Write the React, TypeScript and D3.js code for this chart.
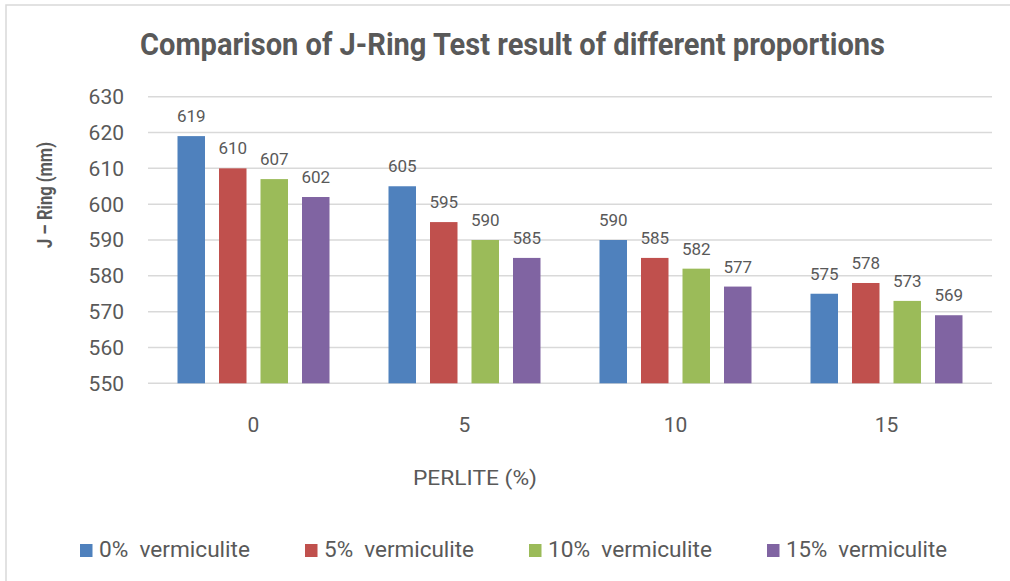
import React, { useEffect, useRef } from "react";
import * as d3 from "d3";

const categories = ["0", "5", "10", "15"];
const seriesNames = ["0% vermiculite", "5% vermiculite", "10% vermiculite", "15% vermiculite"];
const seriesColors = ["#4f81bd", "#c0504d", "#9bbb59", "#8064a2"];
const v0 = [619, 605, 590, 575];
const v5 = [610, 595, 585, 578];
const v10 = [607, 590, 582, 573];
const v15 = [602, 585, 577, 569];
const seriesValues = [v0, v5, v10, v15];
const yTicks = [550, 560, 570, 580, 590, 600, 610, 620, 630];

const W = 1010;
const H = 581;
const FONT = "Roboto, 'Open Sans', sans-serif";
const TXT = "#595959";
const legendTextWidths = [151, 150, 164, 161];

export default function App() {
  const ref = useRef<SVGSVGElement>(null);

  useEffect(() => {
    const svg = d3.select(ref.current);
    svg.selectAll("*").remove();

    svg.append("rect").attr("x", 0).attr("y", 0).attr("width", W).attr("height", H).attr("fill", "#fff");
    svg.append("rect")
      .attr("x", 6).attr("y", 5).attr("width", W + 20).attr("height", H + 20)
      .attr("fill", "none").attr("stroke", "#d9d9d9").attr("stroke-width", 1.5);

    const left = 148, right = 992, top = 96.7, bottom = 383.3;
    const x0 = d3.scaleBand().domain(categories).range([left, right]).paddingInner(0).paddingOuter(0);
    const y = d3.scaleLinear().domain([550, 630]).range([bottom, top]);

    svg.append("g").selectAll("line").data(yTicks).join("line")
      .attr("x1", left).attr("x2", right)
      .attr("y1", (d) => y(d)).attr("y2", (d) => y(d))
      .attr("stroke", "#d9d9d9").attr("stroke-width", 1.5);

    svg.append("g").selectAll("text").data(yTicks).join("text")
      .attr("x", 124).attr("y", (d) => y(d)).attr("dy", "0.35em")
      .attr("text-anchor", "end").attr("font-family", FONT).attr("font-size", 21)
      .attr("fill", TXT).text((d) => d);

    const bw = 27.5, pitch = 41.5;
    const offset = (i: number) => (i - 1.5) * pitch - bw / 2;

    seriesValues.forEach((vals, si) => {
      const g = svg.append("g");
      g.selectAll("rect").data(vals).join("rect")
        .attr("x", (d, i) => (x0(categories[i]) as number) + x0.bandwidth() / 2 + offset(si))
        .attr("y", (d) => y(d)).attr("width", bw).attr("height", (d) => bottom - y(d))
        .attr("fill", seriesColors[si]);
      g.selectAll("text").data(vals).join("text")
        .attr("x", (d, i) => (x0(categories[i]) as number) + x0.bandwidth() / 2 + offset(si) + bw / 2)
        .attr("y", (d) => y(d) - 14)
        .attr("text-anchor", "middle").attr("font-family", FONT).attr("font-size", 17)
        .attr("fill", TXT).text((d) => d);
    });

    svg.append("g").selectAll("text").data(categories).join("text")
      .attr("x", (d) => (x0(d) as number) + x0.bandwidth() / 2).attr("y", 432)
      .attr("text-anchor", "middle").attr("font-family", FONT).attr("font-size", 21)
      .attr("fill", TXT).text((d) => d);

    svg.append("text").attr("x", 475).attr("y", 485).attr("text-anchor", "middle")
      .attr("font-family", FONT).attr("font-size", 21).attr("fill", TXT)
      .attr("textLength", 124).attr("lengthAdjust", "spacingAndGlyphs")
      .text("PERLITE (%)");
    svg.append("text").attr("transform", "translate(52,195) rotate(-90)")
      .attr("text-anchor", "middle").attr("font-family", FONT).attr("font-size", 20)
      .attr("font-weight", "bold").attr("fill", TXT)
      .attr("textLength", 106).attr("lengthAdjust", "spacingAndGlyphs")
      .text("J – Ring (mm)");

    svg.append("text").attr("x", 512.5).attr("y", 55).attr("text-anchor", "middle")
      .attr("font-family", FONT).attr("font-size", 31).attr("font-weight", "bold").attr("fill", TXT)
      .attr("textLength", 745).attr("lengthAdjust", "spacingAndGlyphs")
      .text("Comparison of J-Ring Test result of different proportions");

    const lg = svg.append("g");
    const gap = 55;
    let cx = 80;
    seriesNames.forEach((name, i) => {
      const it = lg.append("g").attr("transform", `translate(${cx},0)`);
      it.append("rect").attr("width", 12.5).attr("height", 13).attr("y", 544).attr("fill", seriesColors[i]);
      it.append("text").attr("x", 19).attr("y", 557)
        .attr("font-family", FONT).attr("font-size", 22).attr("fill", TXT)
        .attr("textLength", legendTextWidths[i]).attr("lengthAdjust", "spacingAndGlyphs")
        .style("white-space", "pre").text(name.replace(" ", "  "));
      cx += 19 + legendTextWidths[i] + gap;
    });
  }, []);

  return (
    <svg ref={ref} width={W} height={H}
      style={{ position: "absolute", left: 0, top: 0, display: "block" }} />
  );
}
